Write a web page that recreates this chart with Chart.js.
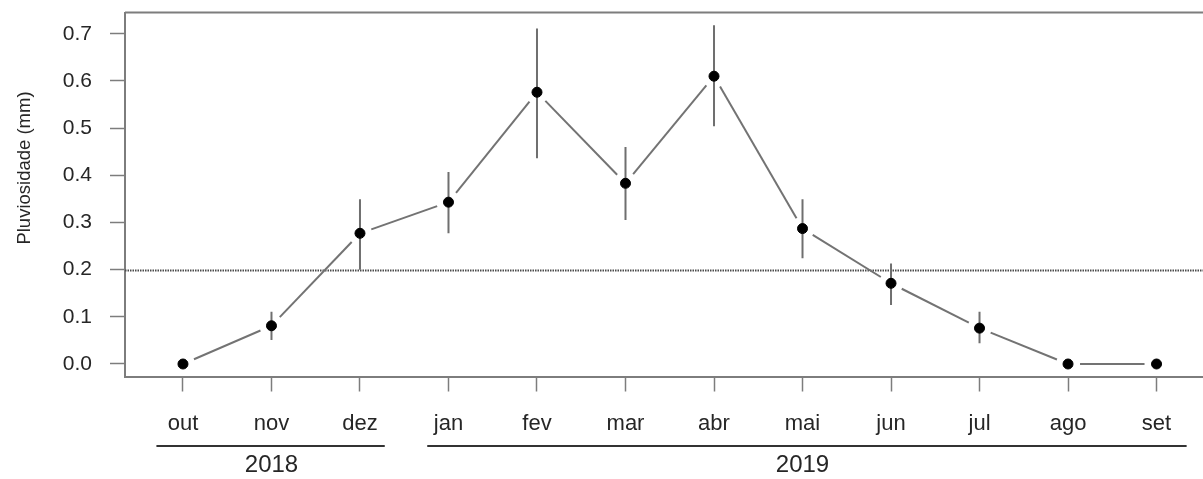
<!DOCTYPE html>
<html>
<head>
<meta charset="utf-8">
<script src="https://cdn.jsdelivr.net/npm/chart.js@4.4.1/dist/chart.umd.min.js"></script>
<style>
  html, body { margin: 0; padding: 0; background: #fff; overflow: hidden; }
  canvas { display: block; }
</style>
</head>
<body>
<canvas id="c" width="1203" height="479"></canvas>
<script>
// ---- data ----
const months = ['out','nov','dez','jan','fev','mar','abr','mai','jun','jul','ago','set'];
const means  = [0.000, 0.081, 0.277, 0.343, 0.576, 0.383, 0.610, 0.287, 0.171, 0.076, 0.000, 0.000];
const lower  = [0.000, 0.051, 0.200, 0.277, 0.436, 0.305, 0.504, 0.224, 0.125, 0.044, 0.000, 0.000];
const upper  = [0.000, 0.111, 0.349, 0.407, 0.711, 0.460, 0.718, 0.349, 0.213, 0.111, 0.000, 0.000];
const yTicks = [0.0, 0.1, 0.2, 0.3, 0.4, 0.5, 0.6, 0.7];
const years = ['2018', '2019'];
const yearCenter = [1, 7];        // month index under which the year label sits
const yearFirst = [0, 3];         // first month index of each year
const yearLast  = [2, 11];        // last month index of each year
const threshold = 0.2;
const yTitle = 'Pluviosidade (mm)';

const FONT = "'Liberation Sans', Arial, Helvetica, sans-serif";
const TEXT = '#262626';
const FRAME = '#7d7d7d';
const UNDER_START = [-0.3, -0.24];   // style: underline overhang (in month units)
const UNDER_END = [0.28, 0.34];

const decorations = {
  id: 'decorations',
  beforeDatasetsDraw(chart) {
    const {ctx, chartArea: a, scales: {x, y}} = chart;
    ctx.save();
    ctx.beginPath();
    ctx.rect(a.left, a.top, a.right - a.left, a.bottom - a.top);
    ctx.clip();
    // dotted reference line
    ctx.strokeStyle = '#4a4a4a';
    ctx.lineWidth = 2;
    ctx.setLineDash([1.5, 1]);
    const yt = Math.round(y.getPixelForValue(threshold)) + 0.5;
    ctx.beginPath(); ctx.moveTo(a.left, yt); ctx.lineTo(a.right, yt); ctx.stroke();
    ctx.setLineDash([]);
    // error bars
    ctx.strokeStyle = '#6f6f6f';
    ctx.lineWidth = 2;
    for (let i = 0; i < means.length; i++) {
      if (upper[i] === lower[i]) continue;
      const px = x.getPixelForValue(i);
      ctx.beginPath();
      ctx.moveTo(px, y.getPixelForValue(lower[i]));
      ctx.lineTo(px, y.getPixelForValue(upper[i]));
      ctx.stroke();
    }
    // connecting line with gaps (type = "b")
    const gap = 12;
    ctx.strokeStyle = '#737373';
    ctx.lineWidth = 2;
    for (let i = 0; i < means.length - 1; i++) {
      const x0 = x.getPixelForValue(i), y0 = y.getPixelForValue(means[i]);
      const x1 = x.getPixelForValue(i + 1), y1 = y.getPixelForValue(means[i + 1]);
      const dx = x1 - x0, dy = y1 - y0, len = Math.hypot(dx, dy);
      if (len <= 2 * gap) continue;
      const ux = dx / len, uy = dy / len;
      ctx.beginPath();
      ctx.moveTo(x0 + ux * gap, y0 + uy * gap);
      ctx.lineTo(x1 - ux * gap, y1 - uy * gap);
      ctx.stroke();
    }
    ctx.restore();
  },
  afterDraw(chart) {
    const {ctx, chartArea: a, scales: {x}} = chart;
    ctx.save();
    // top frame line
    ctx.strokeStyle = FRAME;
    ctx.lineWidth = 2;
    ctx.beginPath(); ctx.moveTo(a.left, a.top); ctx.lineTo(a.right, a.top); ctx.stroke();
    // year underlines
    ctx.strokeStyle = '#333';
    ctx.lineWidth = 2;
    const ly = 446;
    for (let k = 0; k < years.length; k++) {
      ctx.beginPath();
      ctx.moveTo(x.getPixelForValue(yearFirst[k] + UNDER_START[k]), ly);
      ctx.lineTo(x.getPixelForValue(yearLast[k] + UNDER_END[k]), ly);
      ctx.stroke();
    }
    // y title
    ctx.fillStyle = TEXT;
    ctx.font = "18.5px " + FONT;
    ctx.textAlign = 'center';
    ctx.textBaseline = 'middle';
    ctx.translate(25, 168);
    ctx.rotate(-Math.PI / 2);
    ctx.fillText(yTitle, 0, 0);
    ctx.restore();
  }
};

const pts = means.map((v, i) => ({x: i, y: v}));

function noPadX(s, h) { s.height = h; s.paddingLeft = 0; s.paddingRight = 0; }

new Chart(document.getElementById('c'), {
  type: 'scatter',
  data: {
    datasets: [{
      data: pts,
      backgroundColor: '#000',
      borderColor: '#000',
      pointRadius: 5,
      pointHoverRadius: 5,
      showLine: false
    }]
  },
  options: {
    responsive: false,
    devicePixelRatio: 1,
    animation: false,
    events: [],
    layout: { autoPadding: false, padding: { top: 12.5, left: 0, right: 0, bottom: 0 } },
    plugins: { legend: { display: false }, tooltip: { enabled: false } },
    scales: {
      x: {
        type: 'linear',
        position: 'bottom',
        weight: 0,
        min: -0.655,
        max: 11.525,
        afterBuildTicks: s => { s.ticks = months.map((m, i) => ({value: i})); },
        afterFit: s => noPadX(s, 71.5),
        grid: { drawOnChartArea: false, drawTicks: true, tickLength: 15, tickColor: FRAME, tickWidth: 1.5 },
        border: { display: true, color: FRAME, width: 2 },
        ticks: {
          autoSkip: false, maxRotation: 0, minRotation: 0, padding: 19,
          color: TEXT, font: { family: FONT, size: 22 },
          callback: v => months[v]
        }
      },
      x2: {
        type: 'linear',
        position: 'bottom',
        weight: 1,
        min: -0.655,
        max: 11.525,
        afterBuildTicks: s => { s.ticks = yearCenter.map(v => ({value: v})); },
        afterFit: s => noPadX(s, 31),
        grid: { display: false, drawTicks: false },
        border: { display: false },
        ticks: {
          autoSkip: false, maxRotation: 0, minRotation: 0, padding: 3,
          color: TEXT, font: { family: FONT, size: 24 },
          callback: v => years[yearCenter.indexOf(v)]
        }
      },
      y: {
        type: 'linear',
        position: 'left',
        min: -0.0265,
        max: 0.745,
        afterBuildTicks: s => { s.ticks = yTicks.map(v => ({value: v})); },
        afterFit: s => { s.width = 125; s.paddingTop = 0; s.paddingBottom = 0; },
        grid: { drawOnChartArea: false, drawTicks: true, tickLength: 15, tickColor: FRAME, tickWidth: 1.5 },
        border: { display: true, color: FRAME, width: 2 },
        ticks: {
          padding: 18, color: TEXT, font: { family: FONT, size: 21 },
          callback: v => v.toFixed(1)
        }
      }
    }
  },
  plugins: [decorations]
});
</script>
</body>
</html>
